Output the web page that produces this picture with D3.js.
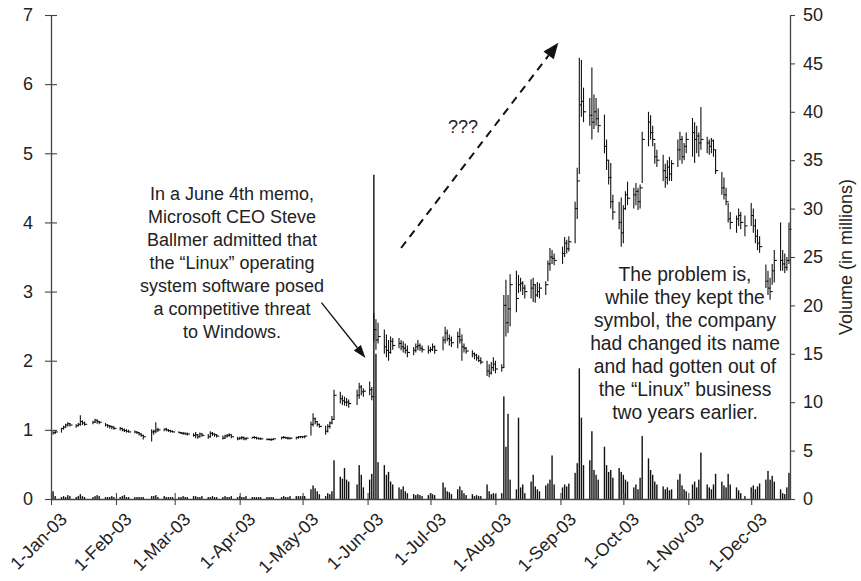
<!DOCTYPE html>
<html><head><meta charset="utf-8">
<script src="https://cdn.jsdelivr.net/npm/d3@7"></script>
<style>
body{margin:0;background:#fff}
text{font-family:"Liberation Sans",Arial,Helvetica,sans-serif;fill:#222}
</style>
</head><body>
<svg id="c" width="861" height="581"></svg>
<script>
// ---- DATA ----
const holidays = ["2003-01-20","2003-02-17","2003-04-18","2003-05-26","2003-07-04","2003-09-01","2003-11-27"];
const monthTicks = ["2003-01-01","2003-02-01","2003-03-01","2003-04-01","2003-05-01","2003-06-01","2003-07-01","2003-08-01","2003-09-01","2003-10-01","2003-11-01","2003-12-01"];
const priceTicks = [0,1,2,3,4,5,6,7];
const volumeTicks = [0,5,10,15,20,25,30,35,40,45,50];

const high = [
 0.98,0.99,1.03,1.06,1.09,1.11,1.10,1.08,1.10,1.21,1.14,1.12,1.13,1.16,1.15,1.13,1.10,1.08,1.07,1.06,1.05,
 1.04,1.03,1.02,1.01,1.00,0.99,0.98,0.97,0.95,0.93,1.01,1.00,1.11,1.03,1.02,1.03,1.01,1.00,0.99,
 0.98,0.97,0.97,0.96,0.96,0.95,0.97,0.94,0.96,0.95,0.94,0.98,0.97,0.95,0.94,0.92,0.93,0.94,0.95,0.93,0.90,
 0.90,0.91,0.90,0.89,0.90,0.91,0.90,0.89,0.89,0.88,0.88,0.88,0.88,0.90,0.91,0.90,0.90,0.89,0.90,0.91,0.91,
 0.91,0.92,1.12,1.24,1.18,1.12,1.09,1.06,1.08,1.12,1.20,1.58,1.55,1.50,1.48,1.46,1.44,1.58,1.68,1.65,1.60,
 1.70,1.62,2.69,2.60,2.55,2.45,2.38,2.30,2.35,2.33,2.33,2.30,2.28,2.25,2.22,2.20,2.25,2.30,2.25,2.22,2.22,
 2.20,2.25,2.22,2.35,2.49,2.45,2.38,2.35,2.42,2.47,2.38,2.25,2.20,2.15,2.12,2.10,2.08,2.05,2.00,1.95,1.98,2.05,
 2.00,1.95,2.95,3.17,2.95,3.25,3.30,3.24,3.20,3.15,3.10,3.18,3.20,3.10,3.14,3.12,3.15,3.45,3.63,3.60,3.55,
 3.65,3.79,3.75,3.80,4.30,4.79,6.38,6.35,5.95,5.80,6.24,5.85,5.80,5.65,5.56,5.20,4.90,4.86,4.40,4.30,4.36,
 4.25,4.45,4.59,4.50,4.57,4.50,4.55,5.31,5.60,5.55,5.40,5.15,5.05,4.98,4.85,4.90,4.95,4.90,5.20,5.31,5.25,5.15,5.30,
 5.51,5.45,5.40,5.30,5.67,5.24,5.20,5.22,5.20,5.05,4.73,4.65,4.50,4.28,4.15,4.10,4.20,4.15,4.10,
 4.28,4.20,4.05,3.90,3.80,3.39,3.30,3.20,3.40,3.60,4.00,3.60,3.55,3.50,4.00
];
const low = [
 0.93,0.94,0.96,1.00,1.03,1.05,1.05,1.03,1.05,1.06,1.07,1.06,1.08,1.10,1.09,1.08,1.05,1.03,1.02,1.01,1.00,
 0.99,0.98,0.97,0.96,0.96,0.95,0.94,0.92,0.90,0.86,0.83,0.93,0.95,0.97,0.98,0.98,0.97,0.96,0.96,
 0.95,0.94,0.93,0.93,0.92,0.90,0.88,0.87,0.89,0.90,0.87,0.89,0.91,0.90,0.89,0.86,0.87,0.89,0.90,0.88,0.85,
 0.86,0.86,0.85,0.85,0.87,0.87,0.86,0.86,0.86,0.85,0.85,0.84,0.85,0.86,0.87,0.87,0.86,0.86,0.86,0.87,0.88,
 0.88,0.88,0.92,1.05,1.08,1.05,1.03,0.93,0.96,1.02,1.08,1.15,1.38,1.36,1.35,1.34,1.32,1.36,1.45,1.50,1.48,
 1.50,1.43,2.28,2.16,2.25,2.10,2.05,2.00,2.10,2.16,2.18,2.15,2.12,2.10,2.05,2.08,2.12,2.15,2.14,2.12,2.10,
 2.12,2.14,2.10,2.15,2.25,2.28,2.22,2.20,2.18,2.25,2.00,2.12,2.10,2.05,2.02,2.00,1.98,1.95,1.78,1.76,1.80,1.85,
 1.82,1.84,1.90,2.35,2.40,2.50,2.70,2.98,3.00,2.95,2.90,2.90,2.85,2.84,2.92,2.90,2.95,3.15,3.30,3.40,3.38,
 3.40,3.50,3.55,3.58,3.70,4.05,4.70,5.53,5.45,5.40,5.20,5.35,5.40,5.30,5.00,4.76,4.55,4.20,4.04,3.90,3.65,
 3.70,4.18,4.25,4.20,4.25,4.18,4.20,4.57,5.10,5.20,5.10,4.85,4.80,4.60,4.50,4.55,4.60,4.60,4.80,4.90,4.85,4.90,5.00,
 4.95,4.86,5.00,4.95,5.05,5.00,4.98,5.00,4.95,4.70,4.40,4.33,4.25,4.00,3.90,3.85,3.95,3.90,3.80,
 3.95,3.85,3.70,3.60,3.56,3.05,2.95,2.88,3.10,3.13,3.30,3.30,3.27,3.30,3.40
];
const close = [
 0.96,0.97,1.02,1.04,1.07,1.09,1.07,1.06,1.08,1.12,1.10,1.08,1.11,1.14,1.12,1.11,1.07,1.06,1.05,1.04,1.02,
 1.02,1.00,0.99,0.98,0.97,0.97,0.96,0.94,0.92,0.90,0.97,0.98,1.00,1.00,1.01,1.00,0.99,0.98,0.97,
 0.96,0.95,0.95,0.94,0.94,0.92,0.93,0.90,0.94,0.92,0.90,0.95,0.94,0.93,0.91,0.88,0.91,0.92,0.93,0.90,0.87,
 0.88,0.89,0.87,0.88,0.89,0.89,0.88,0.87,0.87,0.86,0.86,0.86,0.87,0.89,0.89,0.88,0.88,0.88,0.89,0.90,0.90,
 0.90,0.91,1.08,1.16,1.12,1.08,1.05,0.98,1.05,1.10,1.15,1.50,1.45,1.42,1.40,1.40,1.38,1.50,1.62,1.55,1.56,
 1.58,1.48,2.45,2.30,2.35,2.20,2.15,2.12,2.28,2.22,2.25,2.20,2.18,2.15,2.12,2.15,2.20,2.22,2.18,2.16,2.15,
 2.16,2.20,2.15,2.30,2.40,2.32,2.30,2.26,2.35,2.30,2.20,2.18,2.14,2.10,2.08,2.04,2.00,1.98,1.85,1.82,1.90,1.95,
 1.88,1.90,2.80,2.55,2.75,3.10,2.90,3.10,3.12,3.05,3.00,3.05,3.10,2.95,3.00,3.05,3.10,3.40,3.50,3.48,3.45,
 3.55,3.70,3.62,3.72,4.20,4.60,5.70,5.75,5.60,5.55,5.45,5.60,5.50,5.40,5.10,4.90,4.65,4.30,4.15,4.00,3.85,
 4.20,4.40,4.35,4.40,4.45,4.30,4.50,5.20,5.45,5.30,5.20,4.95,4.90,4.75,4.65,4.80,4.70,4.85,5.05,5.20,4.95,5.10,5.20,
 5.30,5.20,5.25,5.15,5.20,5.15,5.10,5.18,5.05,4.75,4.50,4.40,4.30,4.05,4.00,4.05,4.10,4.00,3.95,
 4.10,3.95,3.80,3.70,3.65,3.15,3.05,3.00,3.30,3.45,3.45,3.40,3.35,3.45,3.90
];
const volume = [
 0.8,0.3,0.2,0.3,0.2,0.4,0.3,0.2,0.3,0.5,0.3,0.2,0.2,0.3,0.4,0.3,0.2,0.2,0.2,0.3,0.2,
 0.2,0.3,0.4,0.2,0.2,0.2,0.2,0.2,0.2,0.2,0.3,0.3,0.4,0.2,0.3,0.2,0.2,0.2,0.2,
 0.2,0.2,0.3,0.2,0.2,0.3,0.3,0.2,0.2,0.3,0.2,0.2,0.3,0.2,0.2,0.2,0.3,0.2,0.2,0.3,0.2,
 0.3,0.2,0.2,0.3,0.2,0.2,0.2,0.2,0.2,0.2,0.2,0.2,0.2,0.2,0.3,0.2,0.2,0.3,0.3,0.3,0.3,
 0.3,0.3,1.0,1.4,1.1,0.8,0.5,0.3,0.6,0.5,0.8,4.0,2.3,2.1,3.2,2.0,1.8,1.5,3.5,2.5,1.2,
 2.0,2.6,33.5,15.0,3.8,3.5,2.5,2.8,1.8,1.5,1.2,1.0,1.3,0.8,0.6,0.5,0.4,0.5,0.4,0.3,0.4,
 0.6,0.5,0.4,1.7,1.2,0.8,0.7,0.5,1.0,1.3,0.9,0.6,0.4,0.5,0.3,0.4,0.3,0.3,1.5,0.8,0.5,0.6,
 0.5,0.6,10.6,5.4,8.8,2.0,1.0,8.4,1.2,1.5,0.6,1.8,2.5,1.3,1.0,0.8,1.4,1.6,2.0,4.5,1.5,
 1.2,1.5,1.3,1.6,2.7,3.7,13.5,8.4,3.5,4.0,7.0,3.0,2.5,2.0,5.4,3.5,2.8,3.0,2.2,3.2,2.8,
 2.5,2.0,1.8,1.2,1.5,1.0,2.2,6.5,4.2,3.0,2.5,1.8,1.5,1.3,1.0,1.2,0.9,1.0,2.0,2.6,1.4,1.0,0.8,
 1.5,1.8,1.2,2.0,4.8,1.5,1.2,1.0,1.5,2.6,1.8,1.4,1.2,2.6,1.5,1.2,0.9,0.6,0.3,
 1.2,1.4,1.0,1.3,1.6,2.0,2.9,2.0,2.4,1.8,1.0,0.6,0.5,1.2,2.7
];
const leftNote = ["In a June 4th memo,","Microsoft CEO Steve","Ballmer admitted that","the \u201cLinux\u201d operating","system software posed","a competitive threat","to Windows."];
const rightNote = ["The problem is,","while they kept the","symbol, the company","had changed its name","and had gotten out of","the \u201cLinux\u201d business","two years earlier."];
const questionNote = "???";
const volumeTitle = "Volume (in millions)";

// ---- BUILD ----
const parse = d3.timeParse("%Y-%m-%d");
const iso = d3.timeFormat("%Y-%m-%d");
const days = d3.timeDay.range(new Date(2003,0,2), new Date(2003,11,20))
  .filter(d => d.getDay() > 0 && d.getDay() < 6 && !holidays.includes(iso(d)));
const data = days.map((d,i) => ({date:d, h:high[i], l:low[i], c:close[i], v:volume[i]}));

const svg = d3.select("#c");
svg.append("rect").attr("width",861).attr("height",581).attr("fill","#fff");

const L = 51, R = 790, T = 15, B = 499;
const x = d3.scaleTime().domain([new Date(2003,0,1), new Date(2003,11,19,12)]).range([L,R]);
const yL = d3.scaleLinear().domain([0,7]).range([B,T]);
const yR = d3.scaleLinear().domain([0,50]).range([B,T]);

// volume bars
svg.append("g").selectAll("rect").data(data).join("rect")
  .attr("x", d => x(d.date) - 0.7).attr("width", 1.4)
  .attr("y", d => yR(d.v)).attr("height", d => B - yR(d.v))
  .attr("fill", "#111");

// price HLC bars
const pg = svg.append("g").attr("stroke","#111").attr("stroke-width",1.1);
pg.selectAll("line.hl").data(data).join("line").attr("class","hl")
  .attr("x1", d => x(d.date)).attr("x2", d => x(d.date))
  .attr("y1", d => yL(d.h)).attr("y2", d => yL(d.l));
pg.selectAll("line.cl").data(data).join("line").attr("class","cl")
  .attr("x1", d => x(d.date)).attr("x2", d => x(d.date) + 2.6)
  .attr("y1", d => yL(d.c)).attr("y2", d => yL(d.c));

// axes
const fs = 18;
const axL = svg.append("g").attr("transform",`translate(${L},0)`)
  .call(d3.axisLeft(yL).tickValues(priceTicks).tickFormat(d3.format("d")).tickSize(6).tickSizeOuter(0).tickPadding(12));
axL.selectAll(".tick line").attr("x1",6);
const axR = svg.append("g").attr("transform",`translate(${R},0)`)
  .call(d3.axisRight(yR).tickValues(volumeTicks).tickFormat(d3.format("d")).tickSize(5).tickSizeOuter(0).tickPadding(8));
const axB = svg.append("g").attr("transform",`translate(0,${B})`)
  .call(d3.axisBottom(x).tickValues(monthTicks.map(parse)).tickFormat(d3.timeFormat("%-d-%b-%y")).tickSize(6).tickSizeOuter(0));
axB.selectAll(".tick line").attr("y1",-6);
axB.selectAll(".tick text").attr("text-anchor","end").attr("dy","0.35em")
  .attr("transform","translate(12,17) rotate(-45)").attr("y",0).attr("x",0);
[axL,axR,axB].forEach(a => {
  a.selectAll("path.domain").attr("stroke","#444").attr("stroke-width",1.3);
  a.selectAll(".tick line").attr("stroke","#444").attr("stroke-width",1.1);
  a.selectAll(".tick text").attr("font-size",fs).attr("fill","#222")
    .attr("font-family","'Liberation Sans',Arial,Helvetica,sans-serif");
});

// right axis title
svg.append("text").attr("transform",`translate(852,${(T+B)/2})  rotate(-90)`)
  .attr("text-anchor","middle").attr("font-size",fs).text(volumeTitle);

// notes
const lh = 23;
svg.append("text").attr("text-anchor","middle").attr("font-size",18)
  .selectAll("tspan").data(leftNote).join("tspan")
  .attr("x",232).attr("y",(d,i)=>200 + i*lh).text(d=>d);
svg.append("text").attr("text-anchor","middle").attr("font-size",19.3)
  .selectAll("tspan").data(rightNote).join("tspan")
  .attr("x",685).attr("y",(d,i)=>281 + i*lh).text(d=>d);
svg.append("text").attr("text-anchor","middle").attr("font-size",18)
  .attr("x",463).attr("y",133).text(questionNote);

// arrows
function arrow(x1,y1,x2,y2,len,wid,dash,sw){
  const a = Math.atan2(y2-y1,x2-x1);
  const bx = x2 - len*Math.cos(a), by = y2 - len*Math.sin(a);
  svg.append("line").attr("x1",x1).attr("y1",y1).attr("x2",bx).attr("y2",by)
    .attr("stroke","#111").attr("stroke-width",sw).attr("stroke-dasharray",dash);
  const px = -Math.sin(a)*wid/2, py = Math.cos(a)*wid/2;
  svg.append("path").attr("d",`M${x2},${y2}L${bx+px},${by+py}L${bx-px},${by-py}Z`).attr("fill","#111");
}
arrow(x(parse("2003-05-10")), yL(2.84), x(parse("2003-05-31")), yL(2.04), 13, 9, null, 1.3);
arrow(x(parse("2003-06-17")), yL(3.63), x(parse("2003-08-31")), yL(6.6), 16, 13, "8,6", 2);
</script>
</body></html>
